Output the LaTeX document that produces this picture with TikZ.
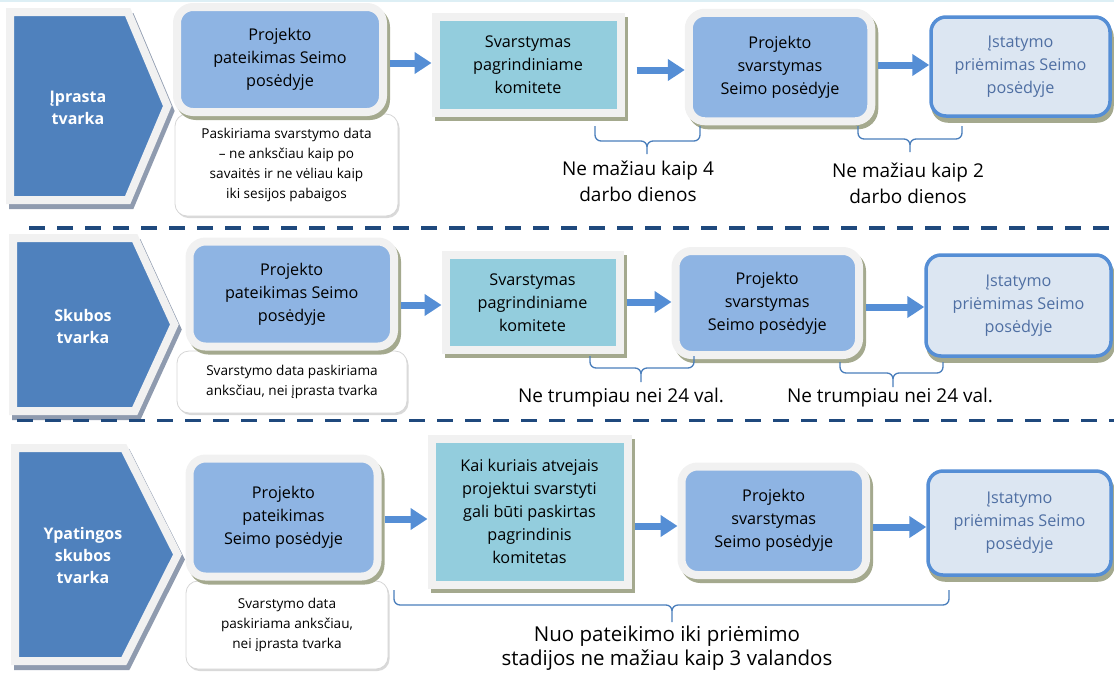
\documentclass[tikz,border=0pt]{standalone}
\usepackage{fontspec}
\setmainfont{Open Sans}
\usetikzlibrary{arrows.meta,shadows}

\definecolor{chevblue}{HTML}{4F81BD}
\definecolor{chevshade}{HTML}{8F9BAF}
\definecolor{framegray}{HTML}{F1F1F1}
\definecolor{boxshade}{HTML}{A4A98E}
\definecolor{stageblue}{HTML}{8EB4E3}
\definecolor{comteal}{HTML}{93CDDD}
\definecolor{lawfill}{HTML}{DCE6F2}
\definecolor{lawborder}{HTML}{558ED5}
\definecolor{lawtext}{HTML}{4F6FA3}
\definecolor{flowblue}{HTML}{558ED5}
\definecolor{braceblue}{HTML}{4A7EBB}
\definecolor{cutblue}{HTML}{1F497D}
\definecolor{notegray}{HTML}{D6D6D6}
\definecolor{topline}{HTML}{DDEFF5}

\tikzset{
  chevron/.style={draw=framegray, fill=chevblue, line width=8pt, line join=miter,
    general shadow={draw=chevshade, fill=chevshade, line width=8pt, shadow xshift=3pt, shadow yshift=-5pt}},
  chevtext/.style={text=white, align=center, font=\bfseries\fontsize{16}{22}\selectfont},
  stage/.style={draw=framegray, fill=stageblue, line width=8pt, rounded corners=16pt,
    inner sep=0pt, align=center, font=\fontsize{16.2}{23}\selectfont,
    general shadow={draw=boxshade, fill=boxshade, line width=8pt, shadow xshift=3pt, shadow yshift=-4pt}},
  committee/.style={stage, sharp corners, fill=comteal},
  law/.style={draw=lawborder, fill=lawfill, line width=3.5pt, rounded corners=15pt,
    inner sep=0pt, align=center, text=lawtext, font=\fontsize{16.2}{23}\selectfont,
    general shadow={draw=boxshade, fill=boxshade, line width=3.5pt, shadow xshift=2pt, shadow yshift=-5pt}},
  note/.style={draw=notegray, fill=white, line width=0.8pt, rounded corners=12pt,
    inner sep=0pt, align=center, font=\fontsize{13.6}{20}\selectfont,
    general shadow={fill=black!15, shadow xshift=1.5pt, shadow yshift=-2pt}},
  flow/.style={draw=flowblue, line width=7pt, shorten <=3pt, -{Triangle[length=17pt,width=21pt]}},
  span/.style={draw=braceblue, line width=1.3pt, rounded corners=6pt},
  spantext/.style={align=center, font=\fontsize{19}{26}\selectfont},
  cut/.style={draw=cutblue, line width=3.5pt, dash pattern=on 16pt off 12pt},
  topedge/.style={draw=topline, line width=1.5pt}
}

\begin{document}
\begin{tikzpicture}[x=1pt,y=-1pt]
  \useasboundingbox (0,0) rectangle (1114,673);
  \draw [topedge] (0,1) -- (1114,1);

  % Iprasta tvarka
  \draw [chevron] (10,12) -- (127.7,12) -- (167.3,106) -- (127.7,200) -- (10,200) -- cycle;
  \draw (78,107.5) node[chevtext] (c1) {Įprasta\\tvarka};
  \draw (286.5,165) node[note, minimum width=223pt, minimum height=102pt] (n1)
    {Paskiriama svarstymo data\\– ne anksčiau kaip po\\savaitės ir ne vėliau kaip\\iki sesijos pabaigos};
  \draw (280,59.5) node[stage, minimum width=206pt, minimum height=105pt] (p1) {Projekto\\pateikimas Seimo\\posėdyje};
  \draw (528,65) node[committee, minimum width=185pt, minimum height=96pt] (k1) {Svarstymas\\pagrindiniame\\komitete};
  \draw (780,67) node[stage, minimum width=182.5pt, minimum height=108.5pt] (s1) {Projekto\\svarstymas\\Seimo posėdyje};
  \draw (1020.5,66.5) node[law, minimum width=179pt, minimum height=99pt] (i1) {Įstatymo\\priėmimas Seimo\\posėdyje};
  \draw [flow] (p1.east |- 0,63) -- (k1.west |- 0,63);
  \draw [flow, shorten <=12pt] (k1.east |- 0,70) -- (s1.west |- 0,70);
  \draw [flow] (s1.east |- 0,65) -- (i1.west |- 0,65);
  \draw [span] (595,126) |- (647,141) -- (647,154) (700,126) |- (647,141) -- (647,154);
  \draw [span] (858,126) |- (910,139) -- (910,152) (962,126) |- (910,139) -- (910,152);
  \draw (638,181) node[spantext] (t1) {Ne mažiau kaip 4\\darbo dienos};
  \draw (908,183) node[spantext] (t2) {Ne mažiau kaip 2\\darbo dienos};

  \draw [cut] (29,228) -- (1114,228);

  % Skubos tvarka
  \draw [chevron] (13,238) -- (134.8,238) -- (174.4,324.5) -- (134.8,411) -- (13,411) -- cycle;
  \draw (83,326.5) node[chevtext] (c2) {Skubos\\tvarka};
  \draw (292,382) node[note, minimum width=230pt, minimum height=62pt] (n2)
    {Svarstymo data paskiriama\\anksčiau, nei įprasta tvarka};
  \draw (291.75,294) node[stage, minimum width=204.5pt, minimum height=105pt] (p2) {Projekto\\pateikimas Seimo\\posėdyje};
  \draw (532.5,302.25) node[committee, minimum width=174pt, minimum height=95.5pt] (k2) {Svarstymas\\pagrindiniame\\komitete};
  \draw (767.25,303) node[stage, minimum width=183.5pt, minimum height=104pt] (s2) {Projekto\\svarstymas\\Seimo posėdyje};
  \draw (1018.5,305.5) node[law, minimum width=185pt, minimum height=101pt] (i2) {Įstatymo\\priėmimas Seimo\\posėdyje};
  \draw [flow] (p2.east |- 0,305) -- (k2.west |- 0,305);
  \draw [flow] (k2.east |- 0,302) -- (s2.west |- 0,302);
  \draw [flow] (s2.east |- 0,307) -- (i2.west |- 0,307);
  \draw [span] (590,356) |- (641,368) -- (641,382) (694,356) |- (641,368) -- (641,382);
  \draw [span] (840,362) |- (893,373) -- (893,387) (943,362) |- (893,373) -- (893,387);
  \draw (621,398) node[spantext] (t3) {Ne trumpiau nei 24 val.};
  \draw (890,398) node[spantext] (t4) {Ne trumpiau nei 24 val.};

  \draw [cut] (17,420.5) -- (1114,420.5);

  % Ypatingos skubos tvarka
  \draw [chevron] (15,448) -- (123.9,448) -- (177.5,554.5) -- (123.9,661) -- (15,661) -- cycle;
  \draw (83,555.5) node[chevtext] (c3) {Ypatingos\\skubos\\tvarka};
  \draw (287,625) node[note, minimum width=202pt, minimum height=88pt] (n3)
    {Svarstymo data\\paskiriama anksčiau,\\nei įprasta tvarka};
  \draw (283.5,517.5) node[stage, minimum width=188pt, minimum height=118pt] (p3) {Projekto\\pateikimas\\Seimo posėdyje};
  \draw (529.5,511.75) node[committee, minimum width=196pt, minimum height=146.5pt] (k3)
    {Kai kuriais atvejais\\projektui svarstyti\\gali būti paskirtas\\pagrindinis\\komitetas};
  \draw (773.75,520.75) node[stage, minimum width=184.5pt, minimum height=108.5pt] (s3) {Projekto\\svarstymas\\Seimo posėdyje};
  \draw (1019.5,523) node[law, minimum width=183pt, minimum height=104pt] (i3) {Įstatymo\\priėmimas Seimo\\posėdyje};
  \draw [flow] (p3.east |- 0,519) -- (k3.west |- 0,519);
  \draw [flow] (k3.east |- 0,526) -- (s3.west |- 0,526);
  \draw [flow] (s3.east |- 0,527) -- (i3.west |- 0,527);
  \draw [span] (394,590) |- (672,605) -- (672,622) (949,590) |- (672,605) -- (672,622);
  \draw (667,648.5) node[spantext, font=\fontsize{20.5}{24}\selectfont] (t5)
    {Nuo pateikimo iki priėmimo\\stadijos ne mažiau kaip 3 valandos};
\end{tikzpicture}
\end{document}
